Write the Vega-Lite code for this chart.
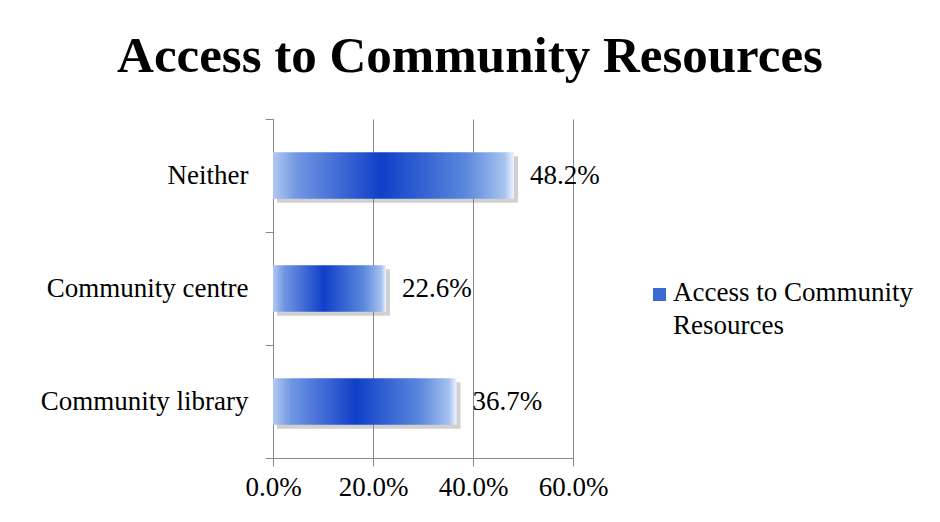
{
  "$schema": "https://vega.github.io/schema/vega-lite/v6.json",
  "width": 300,
  "height": 339,
  "autosize": {"type": "none"},
  "padding": {"left": 273, "top": 119, "right": 367, "bottom": 64},
  "background": "white",
  "title": {
    "text": "Access to Community Resources",
    "font": "Liberation Serif",
    "fontSize": 51,
    "fontWeight": "bold",
    "color": "black",
    "anchor": "middle",
    "dx": 47,
    "baseline": "alphabetic",
    "offset": -18
  },
  "data": {
    "values": [
      {"category": "Neither", "value": 0.482, "series": "Access to Community Resources"},
      {"category": "Community centre", "value": 0.226, "series": "Access to Community Resources"},
      {"category": "Community library", "value": 0.367, "series": "Access to Community Resources"}
    ]
  },
  "encoding": {
    "y": {
      "field": "category",
      "type": "nominal",
      "sort": ["Neither", "Community centre", "Community library"],
      "scale": {"paddingInner": 0, "paddingOuter": 0},
      "axis": {
        "title": null,
        "tickBand": "extent",
        "domainColor": "#888888",
        "tickColor": "#888888",
        "tickSize": 8,
        "labelFont": "Liberation Serif",
        "labelFontSize": 27,
        "labelColor": "black",
        "labelPadding": 17,
        "labelLimit": 300,
        "grid": false
      }
    },
    "x": {
      "field": "value",
      "type": "quantitative",
      "scale": {"domain": [0, 0.6]},
      "axis": {
        "title": null,
        "values": [0, 0.2, 0.4, 0.6],
        "format": ".1%",
        "domainColor": "#888888",
        "tickColor": "#888888",
        "tickSize": 8,
        "gridColor": "#888888",
        "gridOpacity": 1,
        "labelFont": "Liberation Serif",
        "labelFontSize": 27,
        "labelColor": "black",
        "labelPadding": 8,
        "labelFlush": false,
        "labelOverlap": false
      }
    }
  },
  "layer": [
    {
      "mark": {"type": "bar", "color": "#777777", "opacity": 0.35, "xOffset": 4, "yOffset": 4, "height": {"band": 0.41}}
    },
    {
      "mark": {
        "type": "bar",
        "height": {"band": 0.41},
        "fill": {
          "gradient": "linear",
          "x1": 0, "x2": 1, "y1": 0, "y2": 0,
          "stops": [
            {"offset": 0, "color": "#b0c8f2"},
            {"offset": 0.1, "color": "#7096e2"},
            {"offset": 0.45, "color": "#0f3fc8"},
            {"offset": 0.8, "color": "#5a88dc"},
            {"offset": 0.96, "color": "#a6c2f0"},
            {"offset": 1, "color": "#eef4ff"}
          ]
        }
      }
    },
    {
      "mark": {"type": "square", "opacity": 0, "size": 1},
      "encoding": {
        "color": {
          "field": "series",
          "type": "nominal",
          "scale": {"range": ["#3a6ad6"]},
          "legend": {
            "title": null,
            "orient": "none",
            "legendX": 373,
            "legendY": 162,
            "symbolType": "square",
            "symbolSize": 169,
            "symbolOpacity": 1,
            "symbolStrokeWidth": 0,
            "labelOffset": 0,
            "labelFont": "Liberation Serif",
            "labelFontSize": 27,
            "labelColor": "black",
            "labelBaseline": "alphabetic",
            "labelLimit": 300,
            "labelExpr": "['Access to Community', 'Resources']",
            "encode": {
              "labels": {
                "update": {
                  "dy": {"value": 6},
                  "lineHeight": {"value": 33}
                }
              },
              "symbols": {
                "update": {
                  "opacity": {"value": 1},
                  "fill": {"value": {
                    "gradient": "linear",
                    "x1": 0, "x2": 1, "y1": 0, "y2": 0,
                    "stops": [
                      {"offset": 0, "color": "#9ab8ee"},
                      {"offset": 0.3, "color": "#1a48cc"},
                      {"offset": 0.7, "color": "#3d6fda"},
                      {"offset": 1, "color": "#b8d0f6"}
                    ]
                  }}
                }
              }
            }
          }
        }
      }
    },
    {
      "mark": {"type": "text", "align": "left", "baseline": "middle", "dx": 16, "font": "Liberation Serif", "fontSize": 27, "color": "black"},
      "encoding": {
        "text": {"field": "value", "type": "quantitative", "format": ".1%"}
      }
    }
  ],
  "config": {
    "view": {"stroke": null}
  }
}
